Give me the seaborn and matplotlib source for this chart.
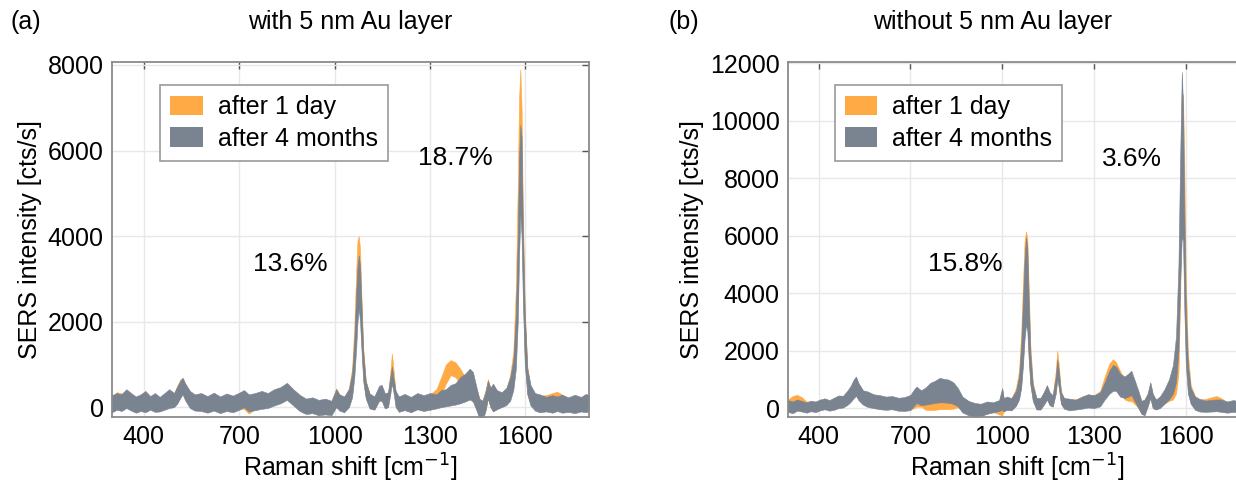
import numpy as np
import pandas as pd
import matplotlib
matplotlib.use("Agg")
import matplotlib.pyplot as plt
from matplotlib.patches import Patch
import seaborn as sns

# ---------------- data (envelopes of the spectra) ----------------
groups = ["after 1 day", "after 4 months"]

# panel (a): with 5 nm Au layer
shift_a = [300, 315, 330, 345, 360, 375, 390, 405, 420, 435,
           450, 465, 480, 495, 505, 515, 522, 530, 545, 560,
           580, 600, 620, 640, 660, 680, 700, 715, 730, 750,
           770, 790, 810, 830, 850, 870, 890, 910, 930, 950,
           970, 990, 1005, 1015, 1030, 1045, 1055, 1062, 1068, 1072,
           1076, 1080, 1084, 1090, 1098, 1110, 1125, 1140, 1148, 1158,
           1168, 1175, 1180, 1185, 1192, 1202, 1220, 1240, 1260, 1280,
           1300, 1320, 1335, 1350, 1365, 1380, 1395, 1410, 1425, 1435,
           1445, 1455, 1465, 1474, 1482, 1490, 1498, 1510, 1525, 1540,
           1552, 1562, 1570, 1576, 1580, 1584, 1588, 1592, 1598, 1606,
           1616, 1630, 1645, 1665, 1685, 1700, 1715, 1735, 1755, 1775,
           1790, 1800]
months_hi_a = [280, 330, 300, 420, 330, 250, 300, 380, 260, 330,
               240, 330, 420, 330, 480, 620, 690, 560, 380, 300,
               330, 260, 340, 250, 320, 270, 340, 400, 300, 330,
               380, 330, 420, 470, 570, 420, 290, 200, 230, 170,
               200, 150, 420, 300, 250, 420, 800, 1600, 2700, 3300,
               3550, 3300, 2500, 1300, 600, 320, 250, 500, 520, 320,
               350, 700, 950, 700, 380, 250, 310, 240, 330, 280,
               330, 300, 400, 420, 520, 560, 700, 780, 900, 820,
               500, 200, 150, 350, 620, 450, 550, 400, 350, 450,
               700, 1100, 2200, 4000, 5800, 6600, 6300, 4200, 2200, 900,
               520, 330, 300, 240, 280, 250, 290, 230, 290, 240,
               310, 280]
months_lo_a = [-120, -60, -90, -20, -80, -130, -90, -120, -60, -110,
               -100, -60, -20, 0, 80, 220, 300, 160, -20, -80,
               -90, -130, -80, -140, -90, -120, -60, 0, -100, -70,
               -40, -20, 40, 90, 170, 40, -90, -160, -140, -190,
               -170, -190, 0, -80, -120, 0, 230, 700, 1400, 2000,
               2300, 2000, 1400, 600, 200, -30, -60, 150, 150, -30,
               0, 300, 550, 350, 0, -110, -70, -120, -50, -90,
               -60, -30, 0, 20, 40, 60, 90, 130, 180, 130,
               -50, -250, -300, -100, 200, 0, -100, -50, 0, 50,
               150, 400, 900, 2000, 3500, 4500, 4000, 2500, 1000, 300,
               40, -80, -120, -100, -130, -90, -130, -110, -140, -100,
               -120, -90]
day_hi_a = [250, 350, 320, 390, 300, 220, 270, 350, 230, 300,
            210, 300, 390, 320, 500, 650, 660, 530, 350, 270,
            300, 230, 310, 220, 290, 240, 310, 370, 270, 300,
            350, 300, 390, 440, 540, 390, 260, 170, 200, 140,
            170, 120, 440, 300, 220, 450, 900, 1900, 3200, 3900,
            4000, 3700, 2700, 1400, 620, 310, 240, 480, 500, 310,
            340, 800, 1250, 900, 350, 220, 280, 210, 300, 250,
            300, 420, 700, 1000, 1100, 1050, 900, 700, 600, 550,
            450, 200, 150, 380, 650, 450, 520, 380, 330, 430,
            750, 1300, 2800, 5200, 7200, 7900, 7000, 4600, 2300, 950,
            480, 300, 270, 280, 330, 360, 300, 200, 260, 210,
            280, 250]
day_lo_a = [-90, -30, -60, 10, -50, -100, -60, -90, -30, -80,
            -70, -30, 10, 30, 110, 250, 330, 190, 10, -50,
            -60, -100, -50, -110, -60, -90, -30, -40, -150, -40,
            -10, 10, 70, 120, 200, 70, -60, -130, -110, -160,
            -140, -160, 20, -50, -90, 30, 300, 900, 1800, 2600,
            2800, 2400, 1600, 700, 220, -20, -50, 160, 160, -20,
            30, 400, 800, 500, 30, -80, -40, -90, -20, -60,
            -30, 100, 300, 550, 750, 700, 550, 350, 250, 150,
            -40, -240, -290, -90, 210, 10, -90, -40, 10, 60,
            200, 500, 1200, 2600, 4500, 5500, 4800, 2800, 1100, 320,
            70, -50, -90, -40, 50, 120, 20, -80, -110, -70,
            -90, -60]

# panel (b): without 5 nm Au layer
shift_b = [300, 315, 330, 345, 360, 375, 390, 405, 420, 435,
           450, 465, 480, 495, 505, 515, 522, 530, 545, 560,
           580, 600, 620, 640, 660, 680, 700, 712, 720, 735,
           750, 765, 780, 795, 810, 825, 840, 855, 870, 890,
           910, 930, 950, 970, 990, 1000, 1005, 1015, 1030, 1045,
           1055, 1062, 1068, 1073, 1078, 1082, 1086, 1092, 1100, 1112,
           1125, 1138, 1146, 1155, 1165, 1175, 1180, 1185, 1192, 1202,
           1220, 1240, 1260, 1280, 1300, 1320, 1335, 1350, 1362, 1372,
           1385, 1400, 1412, 1422, 1432, 1445, 1455, 1465, 1475, 1484,
           1492, 1502, 1515, 1530, 1545, 1558, 1568, 1576, 1582, 1587,
           1591, 1595, 1600, 1607, 1616, 1630, 1645, 1665, 1685, 1700,
           1715, 1735, 1755, 1775, 1790, 1800]
months_hi_b = [280, 230, 300, 250, 200, 260, 230, 300, 340, 280,
               360, 440, 430, 620, 780, 1000, 1100, 880, 620, 580,
               480, 450, 400, 420, 360, 380, 460, 650, 750, 620,
               720, 880, 950, 1050, 1020, 990, 900, 700, 400, 250,
               180, 150, 230, 200, 280, 700, 350, 400, 350, 600,
               1100, 2200, 3800, 5200, 5950, 5600, 4000, 1900, 800, 350,
               350, 600, 800, 550, 450, 1100, 1700, 1300, 550, 350,
               330, 290, 400, 480, 450, 550, 900, 1300, 1500, 1450,
               1200, 1100, 1200, 1300, 1000, 600, 250, 300, 500, 900,
               500, 300, 400, 650, 1000, 1500, 2500, 5000, 9000, 11700,
               10500, 7000, 3500, 1500, 700, 400, 320, 260, 290, 300,
               300, 230, 280, 230, 260, 240]
months_lo_b = [-130, -180, -90, -120, -160, -110, -140, -80, -40, -90,
               -60, 0, 20, 120, 220, 350, 430, 280, 120, 40,
               0, -40, -60, -40, -90, -100, -70, 80, 180, 100,
               120, 150, 180, 200, 200, 180, 150, 60, -150, -250,
               -300, -280, -200, -150, -100, -60, -120, -60, -80, 80,
               300, 700, 1500, 2400, 2900, 2700, 1800, 800, 250, -50,
               -50, 150, 300, 100, 50, 500, 1000, 700, 150, -20,
               -80, -50, -20, 20, 0, 60, 300, 500, 600, 600,
               400, 350, 400, 450, 250, 0, -200, -250, 50, 350,
               0, -50, 0, 150, 300, 500, 900, 2000, 4500, 6000,
               5800, 3500, 1500, 500, 150, -60, -120, -130, -120, -110,
               -130, -160, -130, -150, -120, -140]
day_hi_b = [300, 420, 460, 380, 230, 230, 200, 270, 310, 250,
            340, 410, 400, 590, 750, 970, 1070, 850, 590, 550,
            450, 420, 370, 390, 330, 350, 430, 620, 720, 500,
            450, 400, 380, 400, 420, 450, 500, 550, 380, 230,
            160, 130, 210, 180, 260, 650, 330, 380, 330, 700,
            1300, 2600, 4400, 5800, 6150, 5900, 4500, 2200, 900, 340,
            340, 580, 780, 540, 440, 1300, 2000, 1500, 600, 340,
            290, 310, 370, 480, 440, 600, 1100, 1550, 1700, 1600,
            1300, 1000, 1000, 1100, 900, 550, 240, 290, 480, 850,
            480, 290, 380, 600, 900, 1200, 1800, 3500, 8000, 10900,
            10900, 8500, 4500, 1900, 800, 420, 300, 320, 380, 420,
            350, 210, 250, 210, 230, 220]
day_lo_b = [-100, -150, 30, -20, -130, -80, -110, -50, -10, -60,
            -30, 30, 50, 150, 250, 380, 460, 310, 150, 70,
            30, -10, -30, -10, -60, -70, -40, 0, 50, 50,
            -60, -70, -60, -40, -40, -30, -20, 30, -120, -220,
            -280, -260, -180, -130, -220, -250, -100, -40, -60, 100,
            350, 800, 1700, 2700, 3300, 3000, 2000, 900, 280, -40,
            -40, 160, 310, 110, 60, 600, 1200, 800, 160, -10,
            -30, -10, 10, 50, 40, 100, 500, 900, 1100, 1000,
            600, 300, 250, 250, 150, 10, -190, -240, 60, 360,
            10, -40, 10, 160, 250, 300, 500, 1200, 4000, 8000,
            8500, 4500, 2000, 700, 200, -10, -70, -60, 50, 120,
            20, -130, -100, -120, -90, -110]

titles = ["with 5 nm Au layer", "without 5 nm Au layer"]
panel_tags = ["(a)", "(b)"]
notes_a = [(860, 3350, "13.6%"), (1380, 5820, "18.7%")]
notes_b = [(880, 5030, "15.8%"), (1425, 8660, "3.6%")]

colors = {"after 1 day": "#FFAA45", "after 4 months": "#7A8491"}


def long_frame(shift, day_lo, day_hi, months_lo, months_hi):
    rows = []
    for g, lo, hi in [(groups[0], day_lo, day_hi), (groups[1], months_lo, months_hi)]:
        assert len(lo) == len(hi) == len(shift)
        for x, a, b in zip(shift, lo, hi):
            rows.append((x, a, g))
            rows.append((x, b, g))
    return pd.DataFrame(rows, columns=["shift", "intensity", "sample"])


sns.set_theme(style="whitegrid")
plt.rcParams["font.family"] = ["Liberation Sans", "DejaVu Sans"]
plt.rcParams["text.color"] = "black"
plt.rcParams["axes.labelcolor"] = "black"
plt.rcParams["axes.edgecolor"] = "#8a8a8a"
plt.rcParams["grid.color"] = "#e8e8e8"

fig = plt.figure(figsize=(12.36, 4.82), dpi=100)
W, H = 1236.0, 482.0
ax_a = fig.add_axes([112 / W, 1 - 417 / H, 477 / W, 355 / H])
ax_b = fig.add_axes([788 / W, 1 - 417 / H, 459 / W, 355 / H])

panels = [
    (ax_a, long_frame(shift_a, day_lo_a, day_hi_a, months_lo_a, months_hi_a), (-230, 8070), [0, 2000, 4000, 6000, 8000], notes_a),
    (ax_b, long_frame(shift_b, day_lo_b, day_hi_b, months_lo_b, months_hi_b), (-310, 12050), [0, 2000, 4000, 6000, 8000, 10000, 12000], notes_b),
]

for ax, df, ylim, yticks, notes in panels:
    # band = min..max of the traces of each group
    sns.lineplot(data=df, x="shift", y="intensity", hue="sample", hue_order=groups,
                 palette=colors, estimator="mean", errorbar=("pi", 100),
                 err_kws={"alpha": 1, "linewidth": 0.4}, linewidth=0, legend=False, ax=ax)
    ax.set_xlim(300, 1800)
    ax.set_ylim(*ylim)
    ax.set_xticks([400, 700, 1000, 1300, 1600])
    ax.set_yticks(yticks)
    ax.tick_params(direction="in", top=True, right=True, length=5, width=1,
                   color="#555555", labelsize=18, labelcolor="black", pad=6)
    ax.set_xlabel("Raman shift [cm$^{-1}$]", fontsize=18, labelpad=2)
    ax.set_ylabel("SERS intensity [cts/s]", fontsize=18, labelpad=4)
    for s in ax.spines.values():
        s.set_linewidth(1.3)
        s.set_color("#8a8a8a")
    ax.grid(True, color="#e8e8e8", linewidth=1)
    for x, y, t in notes:
        ax.text(x, y, t, fontsize=19, ha="center", va="center")
    handles = [Patch(facecolor=colors[g], edgecolor="none", label=g) for g in groups]
    leg = ax.legend(handles=handles, loc="upper left", bbox_to_anchor=(0.075, 0.97),
                    fontsize=18, frameon=True, fancybox=False, framealpha=1,
                    edgecolor="#999999", handlelength=1.3, handleheight=0.8,
                    borderpad=0.4, labelspacing=0.3, handletextpad=0.6)
    leg.get_frame().set_linewidth(1.2)
    for t in leg.get_texts():
        t.set_color("black")

fig.text(10 / W, 1 - 22 / H, panel_tags[0], fontsize=18, ha="left", va="center")
fig.text(350 / W, 1 - 22 / H, titles[0], fontsize=18, ha="center", va="center")
fig.text(668 / W, 1 - 22 / H, panel_tags[1], fontsize=18, ha="left", va="center")
fig.text(993 / W, 1 - 22 / H, titles[1], fontsize=18, ha="center", va="center")

fig.savefig("out.png", dpi=100)
